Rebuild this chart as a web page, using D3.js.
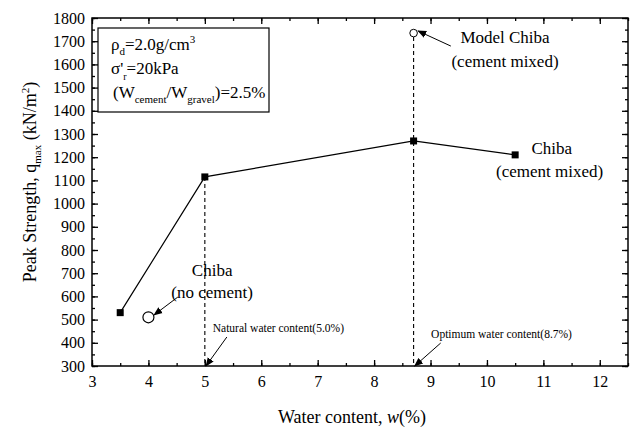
<!DOCTYPE html>
<html>
<head>
<meta charset="utf-8">
<script src="https://cdn.jsdelivr.net/npm/d3@7"></script>
<style>
  body { margin: 0; background: #fff; }
  svg text { font-family: "Liberation Serif", "Times New Roman", "DejaVu Serif", serif; fill: #000; }
</style>
</head>
<body>
<div id="chart"></div>
<script>
// data
const cementW = [3.5, 5, 8.7, 10.5];
const cementQ = [530, 1115, 1270, 1210];
const noCementW = [4];
const noCementQ = [510];
const modelW = [8.7];
const modelQ = [1735];
const xTicks = [3, 4, 5, 6, 7, 8, 9, 10, 11, 12];
const yTicks = [300, 400, 500, 600, 700, 800, 900, 1000, 1100, 1200, 1300, 1400, 1500, 1600, 1700, 1800];

const serif = '"Liberation Serif", "Times New Roman", "DejaVu Serif", serif';

const margin = {top: 18, right: 4, bottom: 64, left: 92},
  width = 632 - margin.left - margin.right,
  height = 430 - margin.top - margin.bottom;

const svg = d3.select("#chart")
  .append("svg")
    .attr("width", 632)
    .attr("height", 430)
    .style("font-family", serif)
  .append("g")
    .attr("transform", `translate(${margin.left},${margin.top})`);

svg.append("defs").append("marker")
    .attr("id", "arrow")
    .attr("viewBox", "0 0 10 10")
    .attr("refX", 9).attr("refY", 5)
    .attr("markerWidth", 9).attr("markerHeight", 9)
    .attr("markerUnits", "userSpaceOnUse")
    .attr("orient", "auto")
  .append("path")
    .attr("d", "M0,1 L10,5 L0,9 Z")
    .style("fill", "#000");

const x = d3.scaleLinear().domain([3, 12.5]).range([0, width]);
const y = d3.scaleLinear().domain([300, 1800]).range([height, 0]);

// minor ticks
const xMinor = d3.range(3, 12.51, 0.5);
const yMinor = d3.range(300, 1801, 50);

function styleAxis(g) {
  g.attr("font-family", null);
  g.select(".domain").remove();
  g.selectAll("line").attr("stroke", "#000").attr("stroke-width", 1.3);
  g.selectAll("text").style("font-size", "16px").style("font-family", serif);
}

// bottom
svg.append("g").attr("transform", `translate(0,${height})`)
  .call(d3.axisBottom(x).tickValues(xMinor).tickSize(-3).tickFormat("")).call(styleAxis);
svg.append("g").attr("transform", `translate(0,${height})`)
  .call(d3.axisBottom(x).tickValues(xTicks).tickSize(-6).tickPadding(10).tickFormat(d3.format("d"))).call(styleAxis);
// top
svg.append("g")
  .call(d3.axisTop(x).tickValues(xMinor).tickSize(-3).tickFormat("")).call(styleAxis);
svg.append("g")
  .call(d3.axisTop(x).tickValues(xTicks).tickSize(-6).tickFormat("")).call(styleAxis);
// left
svg.append("g")
  .call(d3.axisLeft(y).tickValues(yMinor).tickSize(-3).tickFormat("")).call(styleAxis);
svg.append("g")
  .call(d3.axisLeft(y).tickValues(yTicks).tickSize(-6).tickPadding(7).tickFormat(d3.format("d"))).call(styleAxis);
// right
svg.append("g").attr("transform", `translate(${width},0)`)
  .call(d3.axisRight(y).tickValues(yMinor).tickSize(-3).tickFormat("")).call(styleAxis);
svg.append("g").attr("transform", `translate(${width},0)`)
  .call(d3.axisRight(y).tickValues(yTicks).tickSize(-6).tickFormat("")).call(styleAxis);

// frame
svg.append("rect")
  .attr("width", width).attr("height", height)
  .style("fill", "none").style("stroke", "#000").style("stroke-width", 1.5);

// dashed guide lines
svg.append("line")
  .attr("x1", x(cementW[1])).attr("x2", x(cementW[1]))
  .attr("y1", y(cementQ[1])).attr("y2", y(300))
  .style("stroke", "#000").style("stroke-width", 1.1).style("stroke-dasharray", "4,3");
svg.append("line")
  .attr("x1", x(modelW[0])).attr("x2", x(modelW[0]))
  .attr("y1", y(modelQ[0]) + 4).attr("y2", y(300))
  .style("stroke", "#000").style("stroke-width", 1.1).style("stroke-dasharray", "4,3");

// cement mixed series
const cement = cementW.map((w, i) => ({w: w, q: cementQ[i]}));
svg.append("path")
  .datum(cement)
  .attr("d", d3.line().x(d => x(d.w)).y(d => y(d.q)))
  .style("fill", "none").style("stroke", "#000").style("stroke-width", 1.2);
svg.selectAll(".sq")
  .data(cement)
  .join("rect")
    .attr("x", d => x(d.w) - 3.5).attr("y", d => y(d.q) - 3.5)
    .attr("width", 7).attr("height", 7)
    .style("fill", "#000");

// open circles
svg.selectAll(".nc")
  .data(noCementW.map((w, i) => ({w: w, q: noCementQ[i]})))
  .join("circle")
    .attr("cx", d => x(d.w)).attr("cy", d => y(d.q)).attr("r", 5.5)
    .style("fill", "#fff").style("stroke", "#000").style("stroke-width", 1.2);
svg.selectAll(".mc")
  .data(modelW.map((w, i) => ({w: w, q: modelQ[i]})))
  .join("circle")
    .attr("cx", d => x(d.w)).attr("cy", d => y(d.q)).attr("r", 3.8)
    .style("fill", "#fff").style("stroke", "#000").style("stroke-width", 1);

// annotations
function label(wx, qy, str, size, anchor) {
  svg.append("text")
    .attr("x", x(wx)).attr("y", y(qy))
    .attr("dy", "0.35em")
    .attr("text-anchor", anchor || "middle")
    .style("font-size", size + "px")
    .style("font-family", serif)
    .text(str);
}
function arrow(w1, q1, w2, q2) {
  svg.append("line")
    .attr("x1", x(w1)).attr("y1", y(q1))
    .attr("x2", x(w2)).attr("y2", y(q2))
    .style("stroke", "#000").style("stroke-width", 1)
    .attr("marker-end", "url(#arrow)");
}

label(5.13, 714, "Chiba", 17);
label(5.13, 619, "(no cement)", 17);
arrow(4.52, 597, 4.10, 520);

label(5.14, 464, "Natural water content(5.0%)", 11.5, "start");
arrow(5.39, 425, 5.02, 300);

label(9.01, 438, "Optimum water content(8.7%)", 11.5, "start");
arrow(9.18, 399, 8.72, 300);

label(10.32, 1718, "Model Chiba", 17);
label(10.32, 1615, "(cement mixed)", 17);
arrow(9.36, 1679, 8.78, 1744);

label(11.15, 1240, "Chiba", 17);
label(11.11, 1141, "(cement mixed)", 17);

// info box
const box = svg.append("g").attr("transform", "translate(6,10)").style("font-family", serif);
box.append("rect")
  .attr("width", 171).attr("height", 84)
  .style("fill", "#fff").style("stroke", "#000").style("stroke-width", 1.2);
const t1 = box.append("text").attr("x", 13).attr("y", 22).style("font-size", "17px");
t1.append("tspan").text("ρ");
t1.append("tspan").attr("dy", 5).style("font-size", "11px").text("d");
t1.append("tspan").attr("dy", -5).text("=2.0g/cm");
t1.append("tspan").attr("dy", -7).style("font-size", "11px").text("3");
const t2 = box.append("text").attr("x", 13).attr("y", 46).style("font-size", "17px");
t2.append("tspan").text("σ'");
t2.append("tspan").attr("dy", 6).style("font-size", "10px").text("r");
t2.append("tspan").attr("dy", -6).text("=20kPa");
const t3 = box.append("text").attr("x", 15).attr("y", 70).style("font-size", "17px");
t3.append("tspan").text("(W");
t3.append("tspan").attr("dy", 5).style("font-size", "11px").text("cement");
t3.append("tspan").attr("dy", -5).text("/W");
t3.append("tspan").attr("dy", 5).style("font-size", "11px").text("gravel");
t3.append("tspan").attr("dy", -5).text(")=2.5%");

// axis titles
const xt = svg.append("text")
  .attr("x", width / 2 - 8).attr("y", height + 57)
  .attr("text-anchor", "middle")
  .style("font-size", "18px");
xt.append("tspan").text("Water content, ");
xt.append("tspan").style("font-style", "italic").text("w");
xt.append("tspan").text("(%)");

const yt = svg.append("text")
  .attr("transform", `translate(-56,${height / 2 - 10}) rotate(-90)`)
  .attr("text-anchor", "middle")
  .style("font-size", "18px");
yt.append("tspan").text("Peak Strength, q");
yt.append("tspan").attr("dy", 5).style("font-size", "11px").text("max");
yt.append("tspan").attr("dy", -5).text(" (kN/m");
yt.append("tspan").attr("dy", -7).style("font-size", "11px").text("2");
yt.append("tspan").attr("dy", 7).text(")");
</script>
</body>
</html>
